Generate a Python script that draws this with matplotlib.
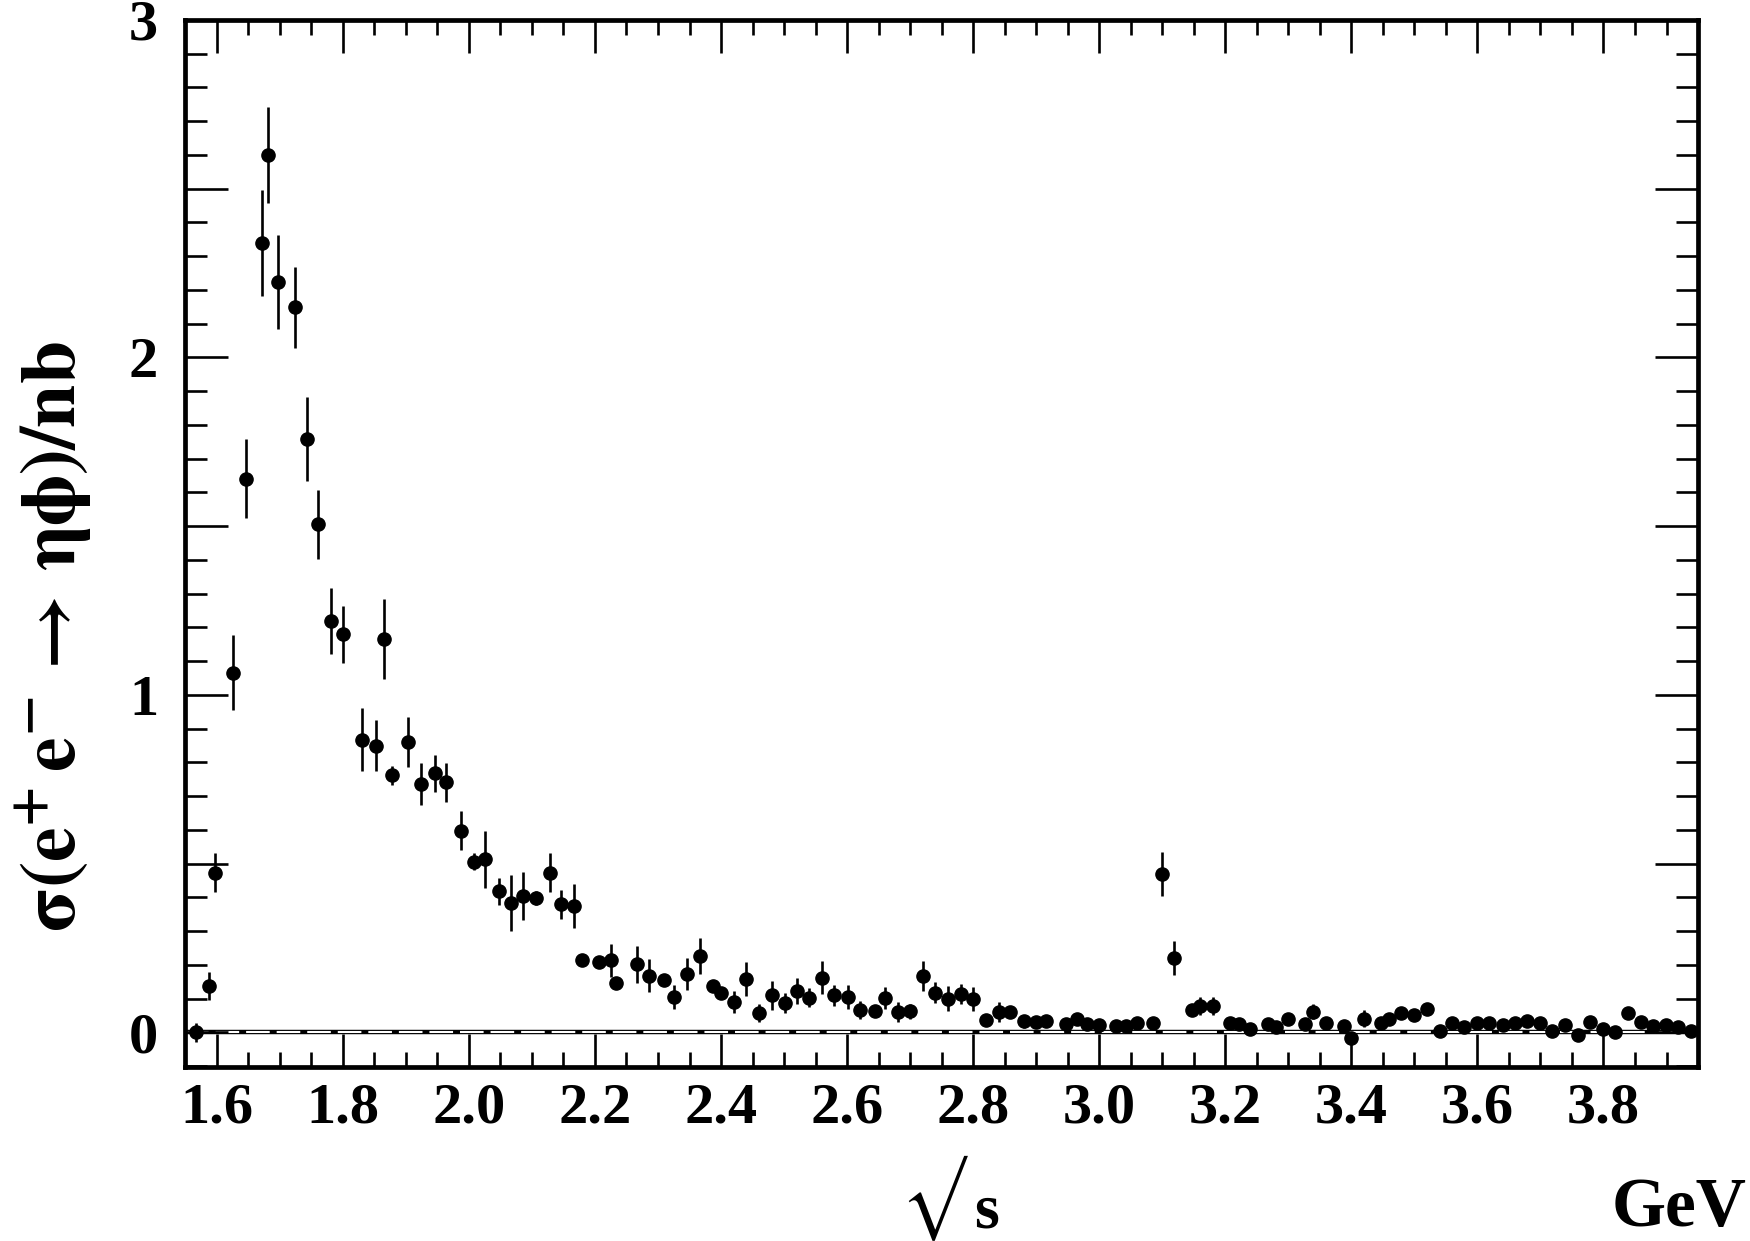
import matplotlib
matplotlib.use("Agg")
import matplotlib.pyplot as plt
import numpy as np

# sigma(e+e- -> eta phi) vs sqrt(s)
energy = [1.567, 1.587, 1.597, 1.625, 1.646, 1.672, 1.682, 1.697, 1.724, 1.743,
          1.760, 1.781, 1.800, 1.830, 1.852, 1.866, 1.878, 1.903, 1.924, 1.947,
          1.964, 1.987, 2.008, 2.026, 2.047, 2.066, 2.086, 2.107, 2.128, 2.146,
          2.167, 2.180, 2.206, 2.226, 2.234, 2.266, 2.286, 2.310, 2.326, 2.346,
          2.366, 2.388, 2.400, 2.420, 2.440, 2.461, 2.481, 2.501, 2.520, 2.540,
          2.560, 2.580, 2.601, 2.621, 2.644, 2.660, 2.680, 2.700, 2.720, 2.740,
          2.760, 2.780, 2.800, 2.820, 2.841, 2.859, 2.880, 2.899, 2.915, 2.948,
          2.965, 2.981, 2.999, 3.027, 3.043, 3.060, 3.085, 3.100, 3.119, 3.147,
          3.160, 3.180, 3.207, 3.221, 3.240, 3.268, 3.281, 3.300, 3.327, 3.339,
          3.359, 3.388, 3.400, 3.420, 3.447, 3.460, 3.479, 3.499, 3.520, 3.540,
          3.559, 3.579, 3.599, 3.619, 3.640, 3.660, 3.679, 3.699, 3.719, 3.739,
          3.759, 3.779, 3.799, 3.819, 3.839, 3.859, 3.879, 3.899, 3.918, 3.939]

xsec = [0.000, 0.137, 0.473, 1.066, 1.641, 2.338, 2.599, 2.224, 2.149, 1.759,
        1.505, 1.218, 1.179, 0.867, 0.849, 1.165, 0.761, 0.860, 0.735, 0.767,
        0.741, 0.597, 0.505, 0.512, 0.418, 0.384, 0.405, 0.398, 0.473, 0.379,
        0.374, 0.213, 0.208, 0.213, 0.147, 0.202, 0.168, 0.154, 0.105, 0.172,
        0.226, 0.136, 0.115, 0.090, 0.158, 0.057, 0.109, 0.087, 0.123, 0.102,
        0.162, 0.110, 0.105, 0.067, 0.062, 0.102, 0.060, 0.062, 0.166, 0.117,
        0.100, 0.113, 0.099, 0.036, 0.061, 0.059, 0.032, 0.031, 0.034, 0.024,
        0.040, 0.024, 0.022, 0.019, 0.019, 0.026, 0.026, 0.470, 0.220, 0.065,
        0.078, 0.077, 0.026, 0.024, 0.011, 0.024, 0.016, 0.040, 0.024, 0.061,
        0.028, 0.018, -0.017, 0.040, 0.026, 0.038, 0.057, 0.051, 0.070, 0.004,
        0.026, 0.016, 0.028, 0.028, 0.022, 0.028, 0.034, 0.028, 0.003, 0.021,
        -0.009, 0.031, 0.011, 0.002, 0.057, 0.029, 0.018, 0.021, 0.016, 0.003]

xsec_err = [0.028, 0.042, 0.058, 0.112, 0.116, 0.157, 0.142, 0.139, 0.120, 0.125,
            0.101, 0.098, 0.085, 0.094, 0.076, 0.118, 0.027, 0.073, 0.062, 0.056,
            0.058, 0.058, 0.025, 0.085, 0.040, 0.083, 0.071, 0.021, 0.057, 0.042,
            0.064, 0.012, 0.012, 0.050, 0.012, 0.055, 0.048, 0.012, 0.036, 0.047,
            0.053, 0.012, 0.012, 0.033, 0.050, 0.027, 0.044, 0.030, 0.038, 0.028,
            0.048, 0.031, 0.035, 0.027, 0.012, 0.033, 0.030, 0.022, 0.044, 0.031,
            0.037, 0.030, 0.035, 0.012, 0.030, 0.012, 0.020, 0.012, 0.012, 0.012,
            0.012, 0.012, 0.010, 0.010, 0.010, 0.010, 0.010, 0.065, 0.051, 0.012,
            0.027, 0.027, 0.010, 0.010, 0.010, 0.010, 0.010, 0.010, 0.010, 0.022,
            0.010, 0.010, 0.010, 0.025, 0.010, 0.010, 0.015, 0.010, 0.018, 0.010,
            0.010, 0.010, 0.010, 0.010, 0.010, 0.010, 0.010, 0.010, 0.010, 0.010,
            0.010, 0.010, 0.010, 0.010, 0.010, 0.010, 0.010, 0.010, 0.010, 0.010]

x_ticks = [1.6, 1.8, 2.0, 2.2, 2.4, 2.6, 2.8, 3.0, 3.2, 3.4, 3.6, 3.8]
y_ticks = [0, 0.5, 1, 1.5, 2, 2.5, 3]
y_ticklabels = ["0", "", "1", "", "2", "", "3"]

plt.rcParams['font.family'] = ['Liberation Serif', 'DejaVu Serif']
plt.rcParams['font.weight'] = 'bold'
plt.rcParams['mathtext.fontset'] = 'stix'
plt.rcParams['lines.scale_dashes'] = False

fig = plt.figure(figsize=(17.5, 12.41), dpi=100)
ax = fig.add_axes([0.1055, 0.1402, 0.8648, 0.8437])

# y = 0 reference line: black band with white dashes inside
ax.axhline(0, color='black', lw=3.2, zorder=1)
ax.axhline(0, color='white', lw=1.5, dashes=(17, 5), zorder=1.5)

ax.errorbar(energy, xsec, yerr=xsec_err, fmt='o', color='black',
            markersize=9.5, elinewidth=1.9, capsize=0, zorder=3)

ax.set_xlim(1.549, 3.948)
ax.set_ylim(-0.103, 3.0)

ax.set_xticks(x_ticks)
ax.set_xticklabels(["%.1f" % t for t in x_ticks])
ax.set_xticks(np.arange(1.55, 3.95, 0.05), minor=True)
ax.set_yticks(y_ticks)
ax.set_yticklabels(y_ticklabels)
ax.set_yticks(np.arange(-0.1, 3.0, 0.1), minor=True)

ax.tick_params(axis='both', which='both', direction='in', top=True, right=True,
               width=1.9, colors='black', labelsize=42)
ax.tick_params(axis='x', which='major', length=23.5, pad=11)
ax.tick_params(axis='x', which='minor', length=11)
ax.tick_params(axis='y', which='major', length=31, pad=19)
ax.tick_params(axis='y', which='minor', length=15.5)

for spine in ax.spines.values():
    spine.set_linewidth(3.4)

# axis titles
fig.text(0.533, 0.0, "√", fontsize=50, fontweight='normal', family='STIXGeneral',
         ha='center', va='bottom')
fig.text(0.564, 0.0, "s", fontsize=46, fontweight='bold', ha='center', va='bottom')
fig.text(0.998, 0.0, "GeV", fontsize=50, fontweight='bold', ha='right', va='bottom')
fig.text(0.031, 0.487,
         r"$\mathbf{\sigma(e^{+}\,e^{-}}\,\rightarrow\,\mathbf{\eta\phi)/nb}$",
         fontsize=56, rotation=90, ha='center', va='center')

fig.savefig("out.png", dpi=100)
